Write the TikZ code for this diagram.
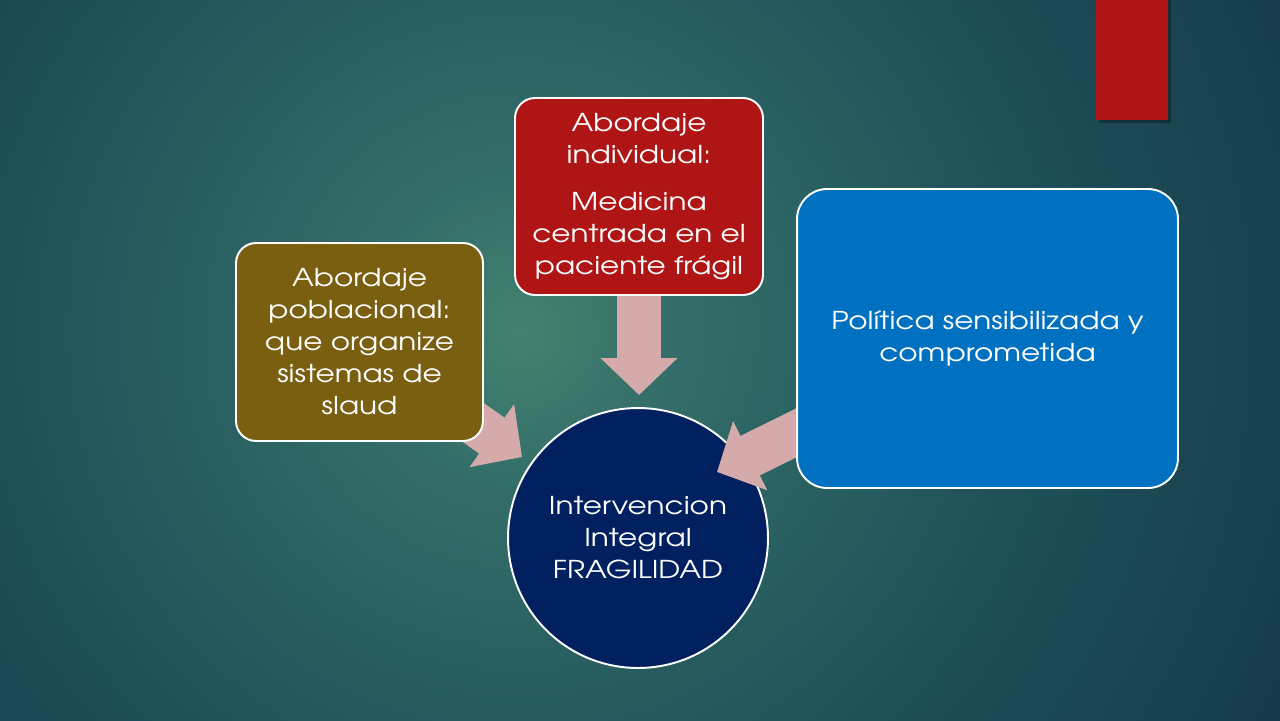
\documentclass[tikz,border=0pt]{standalone}
\usepackage{fontspec}
\setmainfont{texgyreadventor}[Extension=.otf, UprightFont=*-regular, BoldFont=*-bold, FakeStretch=1.2]
\usetikzlibrary{arrows.meta}
\definecolor{bgin}{HTML}{44826F}
\definecolor{bgmidA}{HTML}{336D69}
\definecolor{bgmidB}{HTML}{1F5058}
\definecolor{bgout}{HTML}{143848}
\definecolor{olive}{HTML}{7A5F10}
\definecolor{boxred}{HTML}{B01515}
\definecolor{boxblue}{HTML}{0070C0}
\definecolor{navy}{HTML}{002060}
\definecolor{pink}{HTML}{D5AAAA}
\pgfdeclareradialshading{bgshade}{\pgfpoint{0bp}{0bp}}{color(0bp)=(bgin); color(4.4bp)=(bgmidA); color(14.4bp)=(bgmidB); color(25bp)=(bgout); color(50bp)=(bgout)}
\tikzset{
  txt/.style={text=white, align=center, inner sep=0pt, font=\fontsize{14}{18.2}\selectfont},
  card/.style={txt, rectangle, rounded corners=0.4cm, draw=white, line width=1.1pt},
  hub/.style={txt, circle, fill=navy, draw=white, line width=1.1pt, minimum size=5.2cm},
  blockarrow/.style={draw=pink, line width=0.88cm, line cap=butt,
    -{Triangle[length=0.74cm, width=1.5cm, fill=pink]}}
}
\begin{document}
\begin{tikzpicture}[x=0.02cm, y=-0.02cm]
\useasboundingbox (0,0) rectangle (1280,720);
\fill[bgout] (0,0) rectangle (1280,720);
\begin{scope}
\clip (0,0) rectangle (1280,720);
\shade[shading=bgshade] (520,330) circle (900);
\end{scope}
% top-right decorative bar
\fill[black, opacity=0.3] (1099,0) rectangle (1171,123);
\fill[boxred] (1096,0) rectangle (1168,120);
% hub
\node[hub] (hub) at (638,538) {Intervencion\\Integral\\FRAGILIDAD};
% connector end points
\coordinate (tipL) at (522,457);
\coordinate (tipD) at (639,395);
\coordinate (tipR) at (717,472);
\coordinate (cL) at (359.5,342);
\coordinate (cD) at (639,196.5);
\coordinate (cR) at (987.5,338.5);
\draw[blockarrow] (cL) -- (tipL);
\draw[blockarrow] (cD) -- (tipD);
\draw[blockarrow] (cR) -- (tipR);
% cards
\node[card, fill=olive, minimum width=4.94cm, minimum height=3.96cm] (pob) at (cL)
  {Abordaje\\poblacional:\\que organize\\sistemas de\\slaud};
\node[card, fill=boxred, minimum width=4.96cm, minimum height=3.94cm] (ind) at (cD)
  {Abordaje\\individual:\\[0.3cm]Medicina\\centrada en el\\paciente frágil};
\node[card, rounded corners=0.6cm, fill=boxblue, minimum width=7.62cm, minimum height=5.98cm] (pol) at (cR)
  {Política sensibilizada y\\comprometida};
\end{tikzpicture}
\end{document}
